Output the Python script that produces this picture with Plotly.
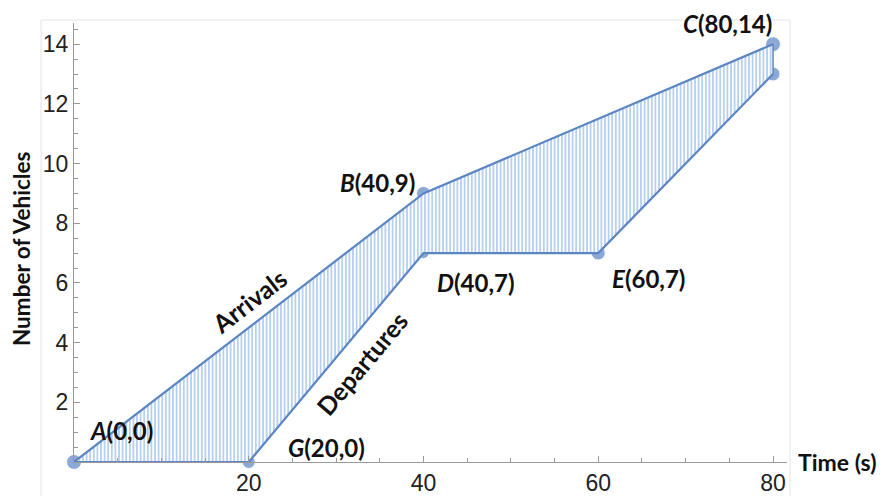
import plotly.graph_objects as go

# Data
arr_t = [0, 40, 80]
arr_n = [0, 9, 14]
dep_t = [0, 20, 40, 60, 80]
dep_n = [0, 0, 7, 7, 13]
pt_names = ["A", "B", "C", "D", "E", "F", "G"]
pt_t = [0, 40, 80, 40, 60, 80, 20]
pt_n = [0, 9, 14, 7, 7, 13, 0]
x_ticks = [20, 40, 60, 80]
y_ticks = [2, 4, 6, 8, 10, 12, 14]

BLUE = "#5B86C3"
fig = go.Figure()

# markers
fig.add_trace(go.Scatter(x=pt_t, y=pt_n, mode="markers",
                         marker=dict(size=[15, 14, 15, 11, 14, 14, 13], color=BLUE),
                         cliponaxis=False, showlegend=False, hoverinfo="skip"))

# hatched region between arrivals and departures
poly_x = arr_t + dep_t[::-1]
poly_y = arr_n + dep_n[::-1]
fig.add_trace(go.Scatter(x=poly_x, y=poly_y, mode="none", fill="toself",
                         fillcolor="rgba(0,0,0,0)",
                         fillpattern=dict(shape="|", size=3.6, solidity=0.4,
                                          fgcolor="#4A8AD6", bgcolor="white"),
                         showlegend=False, hoverinfo="skip"))

# cumulative curves
fig.add_trace(go.Scatter(x=arr_t, y=arr_n, mode="lines",
                         line=dict(color=BLUE, width=2.2), cliponaxis=False,
                         showlegend=False))
fig.add_trace(go.Scatter(x=dep_t, y=dep_n, mode="lines",
                         line=dict(color=BLUE, width=2.2), cliponaxis=False,
                         showlegend=False))
fig.add_trace(go.Scatter(x=[arr_t[-1], dep_t[-1]], y=[arr_n[-1], dep_n[-1]], mode="lines",
                         line=dict(color=BLUE, width=1.5), cliponaxis=False,
                         showlegend=False))

LF = "Lato, 'DejaVu Sans', sans-serif"
labels = {
    "A": (5.4, 1.07), "B": (34.7, 9.38), "C": (74.8, 14.70), "D": (46.0, 6.03),
    "E": (65.8, 6.16), "F": (85.5, 12.09), "G": (28.9, 0.5),
}
for name, t, n in zip(pt_names, pt_t, pt_n):
    lx, ly = labels[name]
    fig.add_annotation(x=lx, y=ly, text=f"<b><i>{name}</i>({t},{n})</b>",
                       showarrow=False, xanchor="center", yanchor="middle",
                       font=dict(family=LF, size=24, color="#111"))

fig.add_annotation(x=20.0, y=5.39, text="<b>Arrivals</b>", textangle=-37.5,
                   showarrow=False, xanchor="center", yanchor="middle",
                   font=dict(family=LF, size=25, color="#111"))
fig.add_annotation(x=32.95, y=3.32, text="<b>Departures</b>", textangle=-50,
                   showarrow=False, xanchor="center", yanchor="middle",
                   font=dict(family=LF, size=25, color="#111"))

# pixel -> paper helpers
def px(x):
    return (x - 74) / 713

def py(y):
    return (462 - y) / 439

# axis titles
fig.add_annotation(x=px(796), y=0, xref="paper", yref="y", text="<b>Time (s)</b>",
                   showarrow=False, xanchor="left", yanchor="middle",
                   font=dict(family=LF, size=23, color="#111"))
fig.add_annotation(x=px(22), y=py(249), xref="paper", yref="paper",
                   text="<b>Number of Vehicles</b>", textangle=-90, showarrow=False,
                   xanchor="center", yanchor="middle",
                   font=dict(family=LF, size=22.5, color="#111"))

for (x0, y0, x1, y1) in [(41, 20, 790, 20), (41, 20, 41, 496), (790, 20, 790, 496)]:
    fig.add_shape(type="line", xref="paper", yref="paper", x0=px(x0), y0=py(y0),
                  x1=px(x1), y1=py(y1), line=dict(color="#E4E4E4", width=1))

tickfont = dict(family="Liberation Sans, Arial, sans-serif", size=23, color="#222")
fig.update_xaxes(range=[0, 81.6], tickvals=x_ticks, ticks="inside", ticklen=6,
                 tickcolor="#999", showline=True, linecolor="#999", linewidth=1.3,
                 showgrid=False, zeroline=False, tickfont=tickfont, automargin=False,
                 minor=dict(dtick=5, tick0=0, ticks="inside", ticklen=3.5, tickcolor="#999"))
fig.update_yaxes(range=[0, 14.71], tickvals=y_ticks, ticks="inside", ticklen=6,
                 tickcolor="#999", showline=True, linecolor="#999", linewidth=1.3,
                 showgrid=False, zeroline=False, tickfont=tickfont, automargin=False,
                 minor=dict(dtick=0.5, tick0=0, ticks="inside", ticklen=3.5, tickcolor="#999"))

fig.update_layout(width=889, height=496, margin=dict(l=74, r=102, t=23, b=34),
                  plot_bgcolor="white", paper_bgcolor="white", showlegend=False)

fig.write_html("out.html", config={"displayModeBar": False},
               post_script="document.body.style.margin='0';")
